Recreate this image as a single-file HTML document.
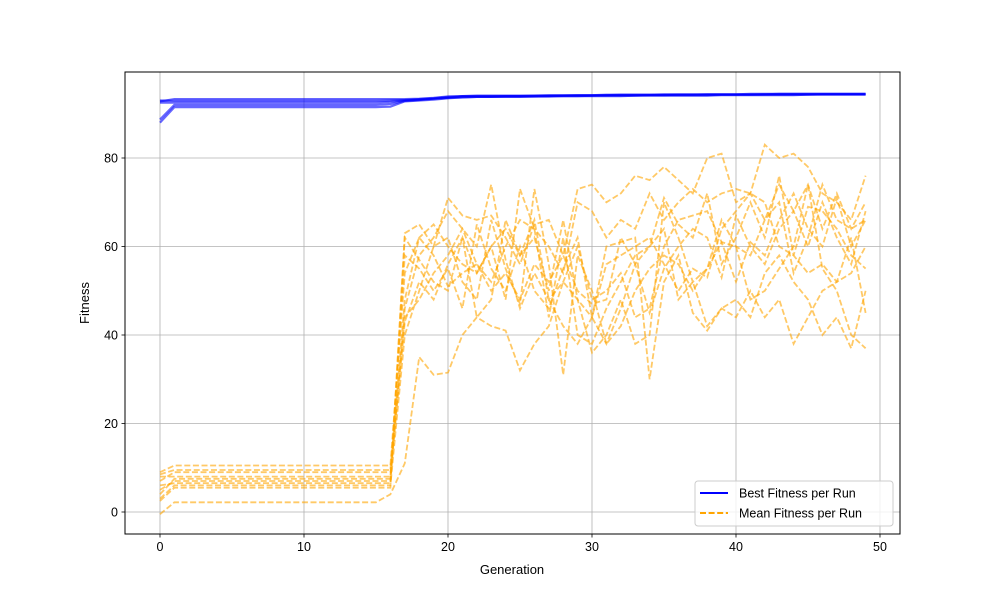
<!DOCTYPE html>
<html><head><meta charset="utf-8"><style>
body{margin:0;background:#fff}
svg{font-family:"Liberation Sans","DejaVu Sans",sans-serif}
</style></head><body>
<svg id="c" width="1000" height="600"></svg>
<script>
const generations=[0,1,2,3,4,5,6,7,8,9,10,11,12,13,14,15,16,17,18,19,20,21,22,23,24,25,26,27,28,29,30,31,32,33,34,35,36,37,38,39,40,41,42,43,44,45,46,47,48,49];
const xTicks=[0,10,20,30,40,50];
const yTicks=[0,20,40,60,80];
const bestRun1=[92.8,93.3,93.3,93.3,93.3,93.3,93.3,93.3,93.3,93.3,93.3,93.3,93.3,93.3,93.3,93.3,93.3,93.3,93.4,93.6,93.9,94,94,94,94,94,94.1,94.1,94.1,94.2,94.2,94.2,94.3,94.3,94.3,94.3,94.3,94.3,94.4,94.4,94.4,94.4,94.4,94.5,94.5,94.5,94.5,94.5,94.5,94.5];
const bestRun2=[88,91.5,91.5,91.5,91.5,91.5,91.5,91.5,91.5,91.5,91.5,91.5,91.5,91.5,91.5,91.5,91.6,92.8,93,93.2,93.5,93.7,93.8,93.8,93.8,93.8,93.9,93.9,94,94,94,94,94,94.1,94.1,94.1,94.1,94.1,94.1,94.2,94.2,94.2,94.2,94.2,94.2,94.3,94.3,94.3,94.3,94.3];
const bestRun3=[88.7,92,92,92,92,92,92,92,92,92,92,92,92,92,92,92,92.2,92.9,93.1,93.4,93.6,93.7,93.8,93.8,93.9,93.9,93.9,94,94,94,94.1,94.1,94.1,94.1,94.2,94.2,94.2,94.2,94.2,94.3,94.3,94.3,94.3,94.3,94.3,94.3,94.4,94.4,94.4,94.4];
const bestRun4=[92.5,92.5,92.5,92.5,92.5,92.5,92.5,92.5,92.5,92.5,92.5,92.5,92.5,92.5,92.5,92.5,92.7,93,93.2,93.4,93.6,94,94.1,94.1,94.1,94.1,94.1,94.2,94.2,94.2,94.2,94.3,94.3,94.3,94.3,94.4,94.4,94.4,94.4,94.4,94.4,94.5,94.5,94.5,94.5,94.5,94.5,94.5,94.5,94.5];
const bestRun5=[93,92.9,92.9,92.9,92.9,92.9,92.9,92.9,92.9,92.9,92.9,92.9,92.9,92.9,92.9,92.9,93,93.1,93.3,93.5,93.8,93.9,93.9,93.9,94,94,94,94,94.1,94.1,94.1,94.2,94.2,94.2,94.2,94.2,94.3,94.3,94.3,94.3,94.3,94.3,94.4,94.4,94.4,94.4,94.4,94.4,94.4,94.4];
const meanRun1=[2.5,5.5,5.5,5.5,5.5,5.5,5.5,5.5,5.5,5.5,5.5,5.5,5.5,5.5,5.5,5.5,5.5,63,65,60,71,67,66,67,62,56,65,66,58,73,74,70,72,76,75,78,75,72,80,81,70,72,83,80,81,78,72,70,66,76];
const meanRun2=[-0.5,2.2,2.2,2.2,2.2,2.2,2.2,2.2,2.2,2.2,2.2,2.2,2.2,2.2,2.2,2.2,4,11,35,31,31.5,40,44,42,41,32,38,42,52,48,44,60,61,62,30,52,58,45,41,46,44,50,44,48,38,44,50,52,62,45];
const meanRun3=[3,6,6,6,6,6,6,6,6,6,6,6,6,6,6,6,6,40,50,60,62,52,48,66,55,47,73,56,31,58,50,38,42,50,55,58,56,50,55,61,60,48,50,55,60,74,55,50,40,37];
const meanRun4=[5,7,7,7,7,7,7,7,7,7,7,7,7,7,7,7,7,58,55,50,55,46,65,55,50,60,50,46,55,62,44,38,46,56,45,55,60,64,62,53,67,60,56,64,68,60,70,62,56,68];
const meanRun5=[8,8,8,8,8,8,8,8,8,8,8,8,8,8,8,8,8,43,52,48,56,62,44,48,66,58,62,50,66,48,36,40,48,38,40,70,62,52,55,66,60,58,66,70,54,62,74,66,64,66];
const meanRun6=[8.5,9.5,9.5,9.5,9.5,9.5,9.5,9.5,9.5,9.5,9.5,9.5,9.5,9.5,9.5,9.5,9.5,48,62,65,60,56,54,60,48,73,64,44,62,40,38,46,52,58,60,71,65,62,72,56,62,70,62,76,58,69,68,64,58,55];
const meanRun7=[9,10.5,10.5,10.5,10.5,10.5,10.5,10.5,10.5,10.5,10.5,10.5,10.5,10.5,10.5,10.5,10.5,54,62,58,51,54,56,50,54,48,56,52,58,50,47,48,62,56,60,64,48,52,42,46,48,44,54,58,52,48,40,44,37,50];
const meanRun8=[4,7.5,7.5,7.5,7.5,7.5,7.5,7.5,7.5,7.5,7.5,7.5,7.5,7.5,7.5,7.5,7.5,46,58,62,68,64,60,74,57,46,54,48,52,60,48,50,54,44,46,60,66,67,68,61,52,61,58,66,72,64,60,71,60,66];
const meanRun9=[6,6.5,6.5,6.5,6.5,6.5,6.5,6.5,6.5,6.5,6.5,6.5,6.5,6.5,6.5,6.5,6.5,62,57,52,50,62,54,60,64,58,66,48,42,38,44,56,58,60,62,56,50,55,53,64,68,72,66,74,68,74,64,72,64,70];
const meanRun10=[7,9,9,9,9,9,9,9,9,9,9,9,9,9,9,9,9,44,48,54,58,64,56,52,60,66,64,60,54,70,68,62,66,64,72,66,70,73,70,72,73,72,70,60,58,54,56,52,54,60];
const bestRuns=[bestRun1,bestRun2,bestRun3,bestRun4,bestRun5];
const meanRuns=[meanRun1,meanRun2,meanRun3,meanRun4,meanRun5,meanRun6,meanRun7,meanRun8,meanRun9,meanRun10];

const L=125,R=900,T=72,B=534;
const xs=v=>160+(v-0)*(880-160)/50;
const ys=v=>512-v*(512-158)/80;
const svg=document.getElementById('c');
const NS='http://www.w3.org/2000/svg';
function mk(t,a,p){const e=document.createElementNS(NS,t);for(const k in a)e.setAttribute(k,a[k]);(p||svg).appendChild(e);return e;}
const grid=mk('g',{});


xTicks.forEach(t=>{
  const l=mk('line',{x1:xs(t),x2:xs(t),y1:T,y2:B,stroke:'#b0b0b0','stroke-width':0.8},grid);
  
  
  mk('line',{x1:xs(t),x2:xs(t),y1:B,y2:B+3.5,stroke:'#000','stroke-width':0.8});
  const tx=mk('text',{x:xs(t),y:B+17,'text-anchor':'middle','font-size':12.5});
  tx.textContent=t;
  
  
});
yTicks.forEach(t=>{
  const l=mk('line',{x1:L,x2:R,y1:ys(t),y2:ys(t),stroke:'#b0b0b0','stroke-width':0.8},grid);
  
  
  mk('line',{x1:L-3.5,x2:L,y1:ys(t),y2:ys(t),stroke:'#000','stroke-width':0.8});
  const tx=mk('text',{x:L-7,y:ys(t)+4.5,'text-anchor':'end','font-size':12.5});
  tx.textContent=t;
  
  
});
function path(arr){return arr.map((v,i)=>(i?'L':'M')+xs(generations[i]).toFixed(1)+','+ys(v).toFixed(1)).join('');}
bestRuns.forEach(r=>{
  const p=mk('path',{d:path(r),fill:'none',stroke:'#0000ff','stroke-opacity':0.6,'stroke-width':2.2});
  
  
});
meanRuns.forEach(r=>{
  const p=mk('path',{d:path(r),fill:'none',stroke:'#ffa500','stroke-opacity':0.6,'stroke-width':1.8,'stroke-dasharray':'6,2.6'});
  
  
});
const fr=mk('rect',{x:L,y:T,width:R-L,height:B-T,fill:'none',stroke:'#000','stroke-width':1});


const xl=mk('text',{x:512,y:574,'text-anchor':'middle','font-size':13});
xl.textContent='Generation';


const yl=mk('text',{x:89,y:303,'text-anchor':'middle','font-size':13,transform:'rotate(-90 89 303)'});
yl.textContent='Fitness';


const lg=mk('g',{});


mk('rect',{x:695,y:481,width:198,height:45,rx:3,fill:'#fff','fill-opacity':0.8,stroke:'#ccc'},lg);
mk('line',{x1:700,x2:728,y1:493,y2:493,stroke:'#0000ff','stroke-width':2},lg);
mk('line',{x1:700,x2:728,y1:513,y2:513,stroke:'#ffa500','stroke-width':2,'stroke-dasharray':'6,2.6'},lg);
const t1=mk('text',{x:739,y:497.5,'font-size':12.5},lg);t1.textContent='Best Fitness per Run';


const t2=mk('text',{x:739,y:517.5,'font-size':12.5},lg);t2.textContent='Mean Fitness per Run';


</script>
</body></html>
